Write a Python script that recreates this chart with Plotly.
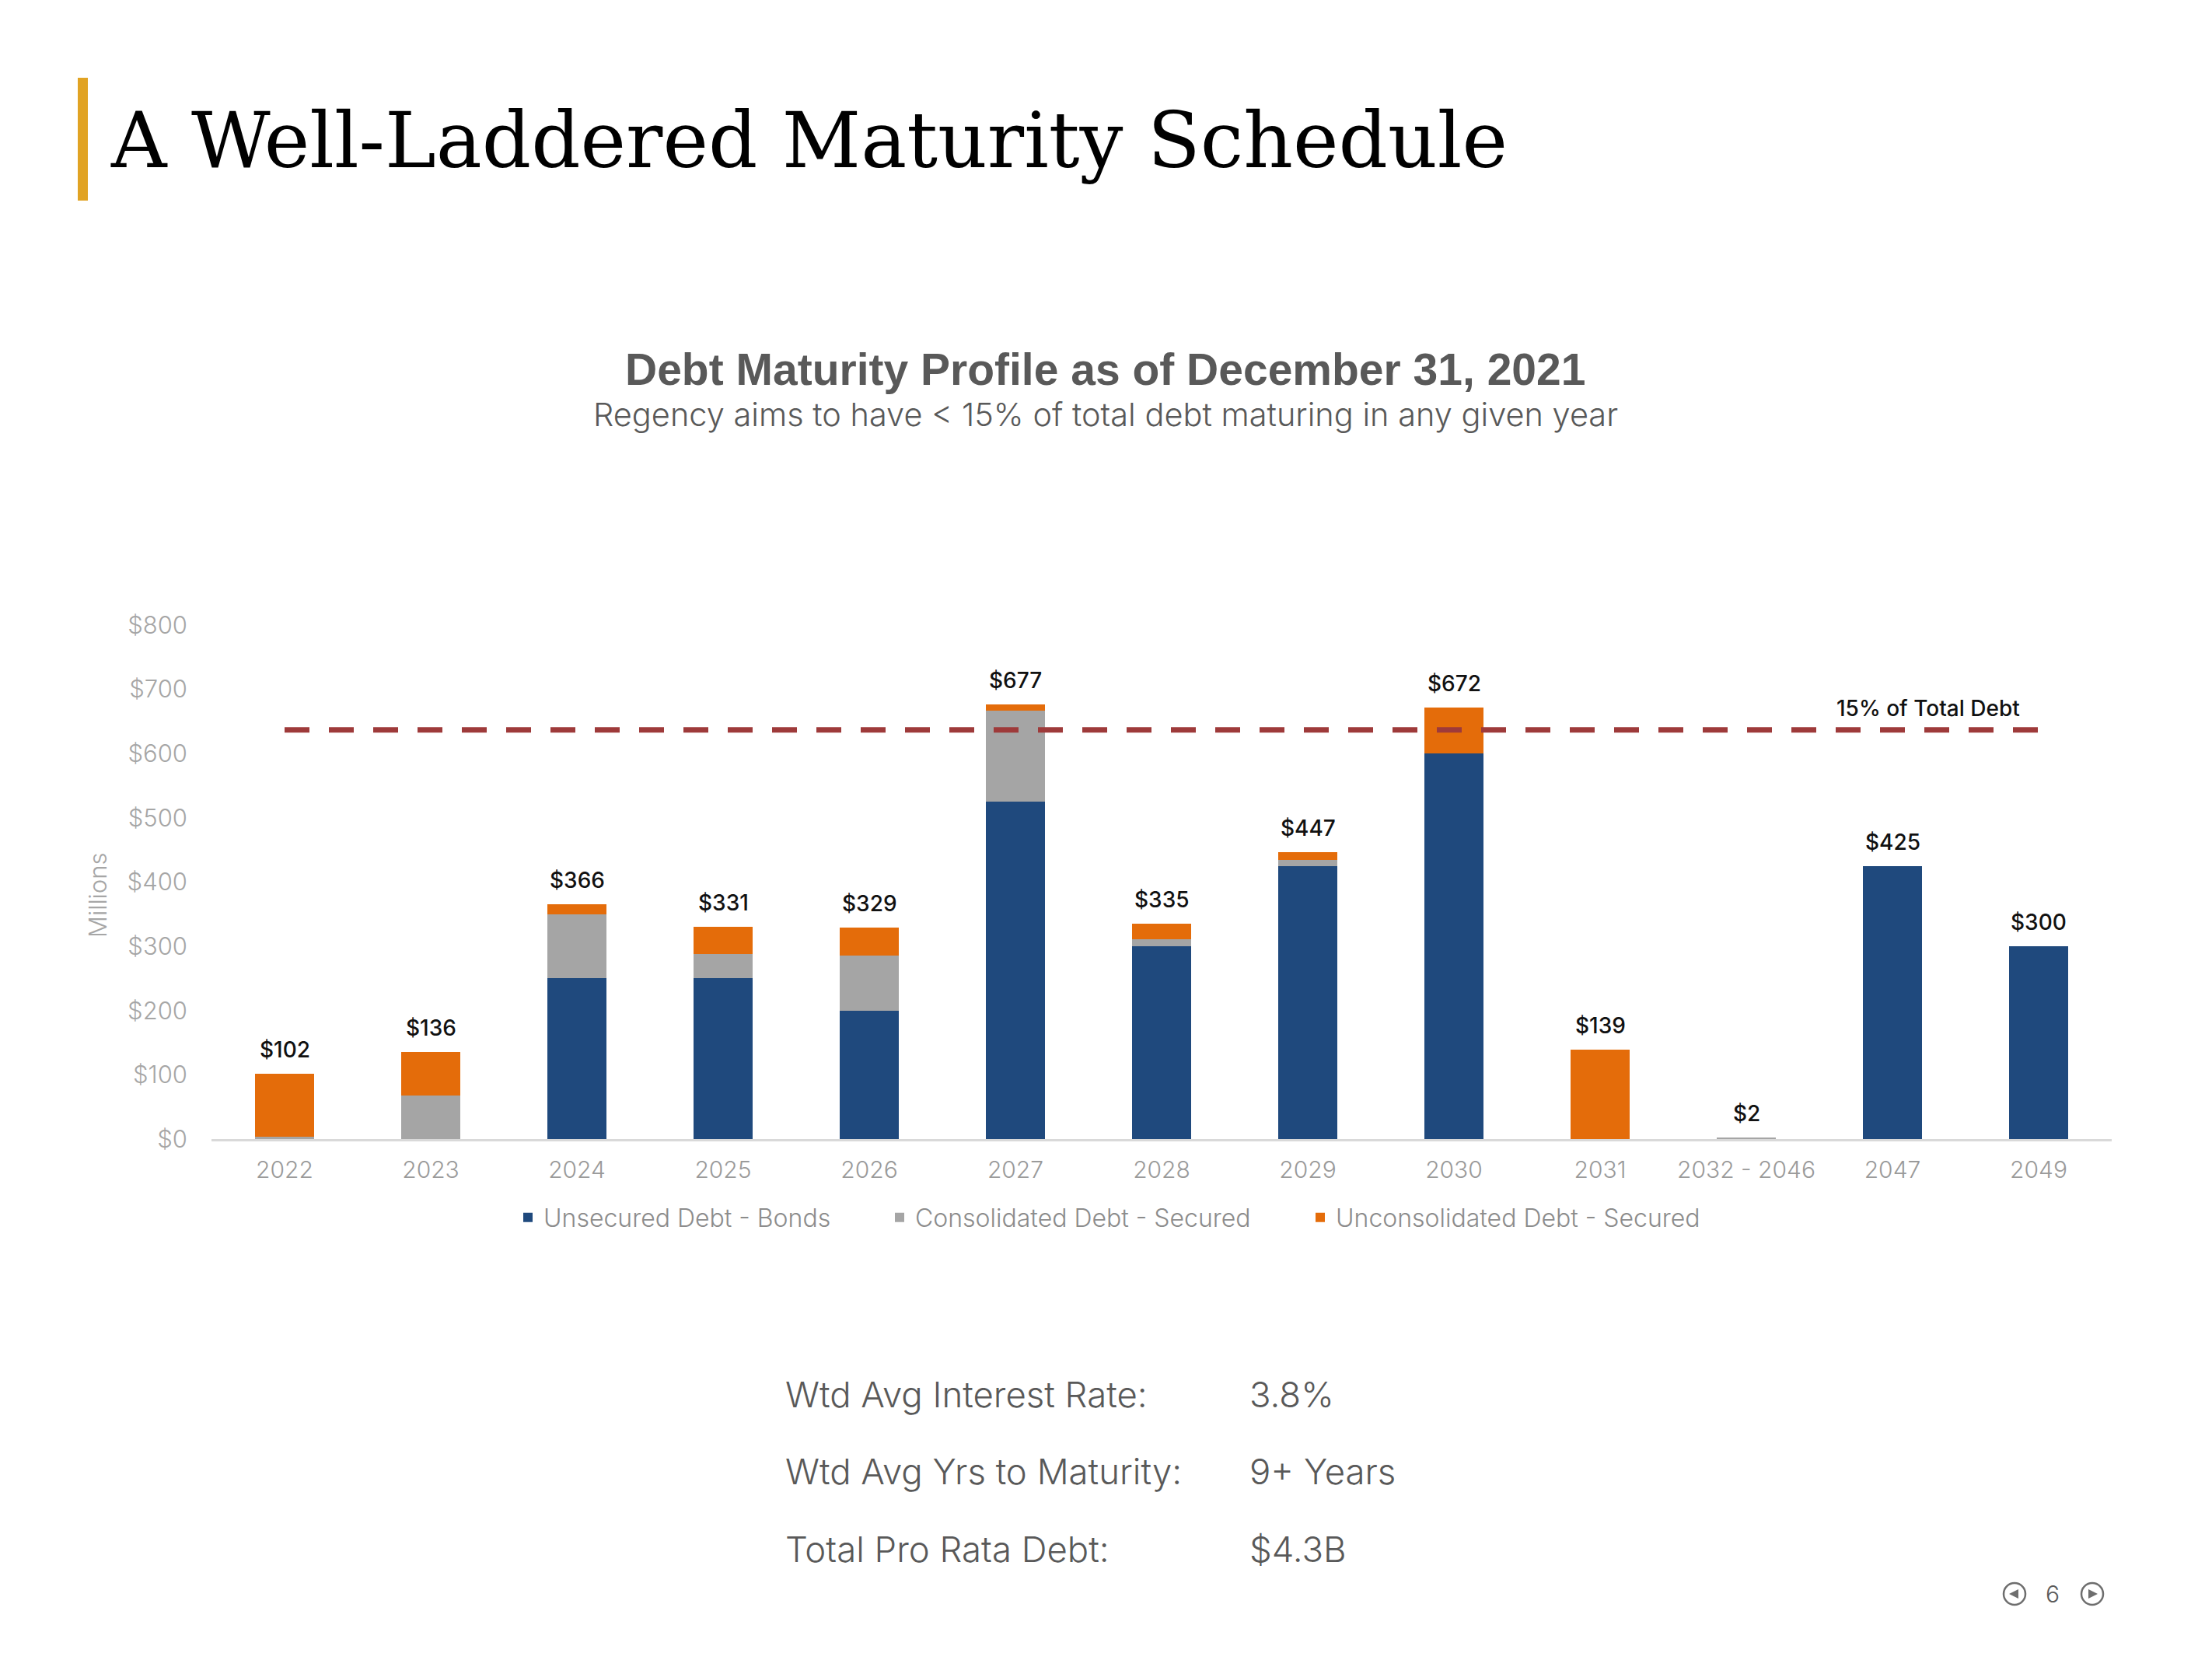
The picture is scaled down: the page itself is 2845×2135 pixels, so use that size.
import plotly.graph_objects as go

# ---------------- data ----------------
categories = ["2022", "2023", "2024", "2025", "2026", "2027", "2028", "2029",
              "2030", "2031", "2032 - 2046", "2047", "2049"]
unsecured_bonds = [0, 0, 250, 250, 200, 525, 300, 425, 600, 0, 0, 425, 300]
consolidated_secured = [4, 68, 100, 38, 86, 142, 11, 10, 0, 0, 2, 0, 0]
unconsolidated_secured = [98, 68, 16, 43, 43, 10, 24, 12, 72, 139, 0, 0, 0]
total_labels = [102, 136, 366, 331, 329, 677, 335, 447, 672, 139, 2, 425, 300]
threshold_value = 637
threshold_label = "15% of Total Debt"
y_ticks = [0, 100, 200, 300, 400, 500, 600, 700, 800]
y_tick_text = ["$0", "$100", "$200", "$300", "$400", "$500", "$600", "$700", "$800"]
stat_names = ["Wtd Avg Interest Rate:", "Wtd Avg Yrs to Maturity:", "Total Pro Rata Debt:"]
stat_values = ["3.8%", "9+ Years", "$4.3B"]

# ---------------- layout helpers (pixel -> paper) ----------------
FW, FH = 2845, 2135
L, R = 272, 2716
T, B = 804, 1465
PW, PH = R - L, B - T


def PX(x):
    return (x - L) / PW


def PY(y):
    return (B - y) / PH


BLUE = "#1F497D"
GREY = "#A5A5A5"
ORANGE = "#E46C0A"
LIGHT = "Inter"
TXT = "#595959"
LEG_FONT = dict(family=LIGHT, size=32, color="#8C8C8C", weight=300)

fig = go.Figure()
fig.add_trace(go.Bar(x=categories, y=unsecured_bonds, name="Unsecured Debt - Bonds",
                     marker=dict(color=BLUE, line=dict(width=0)), legend="legend"))
fig.add_trace(go.Bar(x=categories, y=consolidated_secured, name="Consolidated Debt - Secured",
                     marker=dict(color=GREY, line=dict(width=0)), legend="legend2"))
fig.add_trace(go.Bar(x=categories, y=unconsolidated_secured, name="Unconsolidated Debt - Secured",
                     marker=dict(color=ORANGE, line=dict(width=0)), legend="legend3"))
fig.add_trace(go.Scatter(x=[categories[0], categories[-1]], y=[threshold_value, threshold_value],
                         mode="lines", showlegend=False, hoverinfo="skip",
                         line=dict(color="#9E3A3A", width=7, dash="32px,25px")))

annotations = []
for i, t in enumerate(total_labels):
    annotations.append(dict(x=i, y=t, xref="x", yref="y", text=f"${t}", showarrow=False,
                            yanchor="middle", yshift=31,
                            font=dict(family=LIGHT, size=28, color="#111111", weight=500)))

annotations.append(dict(x=PX(2480), y=PY(911), xref="paper", yref="paper", text=threshold_label,
                        showarrow=False, xanchor="center", yanchor="middle",
                        font=dict(family=LIGHT, size=28, color="#111111", weight=500)))

# slide title
annotations.append(dict(x=PX(140), y=PY(180), xref="paper", yref="paper",
                        text="A Well-Laddered Maturity Schedule", showarrow=False,
                        xanchor="left", yanchor="middle",
                        font=dict(family="DejaVu Serif", size=99, color="#000000")))
# chart title + subtitle
annotations.append(dict(x=PX(1421), y=PY(475), xref="paper", yref="paper",
                        text="<b>Debt Maturity Profile as of December 31, 2021</b>", showarrow=False,
                        xanchor="center", yanchor="middle",
                        font=dict(family="Liberation Sans, Arial", size=57, color=TXT)))
annotations.append(dict(x=PX(1422), y=PY(533), xref="paper", yref="paper",
                        text="Regency aims to have &lt; 15% of total debt maturing in any given year",
                        showarrow=False, xanchor="center", yanchor="middle",
                        font=dict(family=LIGHT, size=41.5, color=TXT, weight=300)))
# y axis title
annotations.append(dict(x=PX(125), y=PY(1152), xref="paper", yref="paper", text="Millions",
                        showarrow=False, textangle=-90, xanchor="center", yanchor="middle",
                        font=dict(family=LIGHT, size=31, color="#A6A6A6", weight=300)))
# stats block
for i, (n, v) in enumerate(zip(stat_names, stat_values)):
    yy = 1793 + i * 99.5
    annotations.append(dict(x=PX(1008), y=PY(yy), xref="paper", yref="paper", text=n,
                            showarrow=False, xanchor="left", yanchor="middle",
                            font=dict(family=LIGHT, size=45.5, color=TXT, weight=300)))
    annotations.append(dict(x=PX(1605), y=PY(yy), xref="paper", yref="paper", text=v,
                            showarrow=False, xanchor="left", yanchor="middle",
                            font=dict(family=LIGHT, size=45.5, color=TXT, weight=300)))
# page number
annotations.append(dict(x=PX(2640), y=PY(2050), xref="paper", yref="paper", text="6",
                        showarrow=False, xanchor="center", yanchor="middle",
                        font=dict(family=LIGHT, size=30, color=TXT, weight=300)))

shapes = [
    dict(type="rect", xref="paper", yref="paper", x0=PX(100), x1=PX(113), y0=PY(258), y1=PY(100),
         fillcolor="#E1A323", line=dict(width=0)),
]
for cx, d in [(2591, -1), (2691, 1)]:
    cy = 2050
    r = 14
    shapes.append(dict(type="circle", xref="paper", yref="paper",
                       x0=PX(cx - r), x1=PX(cx + r), y0=PY(cy + r), y1=PY(cy - r),
                       line=dict(color="#6E6E6E", width=2.5)))
    tip = cx + d * 7
    base = cx - d * 5
    path = (f"M {PX(tip)} {PY(cy)} L {PX(base)} {PY(cy - 6)} L {PX(base)} {PY(cy + 6)} Z")
    shapes.append(dict(type="path", xref="paper", yref="paper", path=path,
                       fillcolor="#6E6E6E", line=dict(width=0)))


def leg(xpix):
    return dict(orientation="h", x=PX(xpix), xanchor="left", y=PY(1566), yanchor="middle",
                font=LEG_FONT, itemclick=False, bgcolor="rgba(0,0,0,0)",
                itemwidth=30)


fig.update_layout(
    width=FW, height=FH,
    margin=dict(l=L, r=FW - R, t=T, b=FH - B, autoexpand=False),
    paper_bgcolor="white", plot_bgcolor="white",
    barmode="stack", bargap=0.6,
    showlegend=True,
    legend=leg(659),
    legend2=leg(1137),
    legend3=leg(1678),
    annotations=annotations,
    shapes=shapes,
    xaxis=dict(type="category", showgrid=False, zeroline=False, showline=True,
               linecolor="#D9D9D9", linewidth=3, ticks="",
               tickfont=dict(family=LIGHT, size=30, color="#9A9A9A", weight=300),
               ticklabelstandoff=11, fixedrange=True),
    yaxis=dict(range=[0, 800], tickvals=y_ticks, ticktext=y_tick_text, showgrid=False,
               zeroline=False, showline=False, ticks="",
               tickfont=dict(family=LIGHT, size=31, color="#A6A6A6", weight=300),
               ticklabelstandoff=30, fixedrange=True),
)

fig.write_html("out.html")
